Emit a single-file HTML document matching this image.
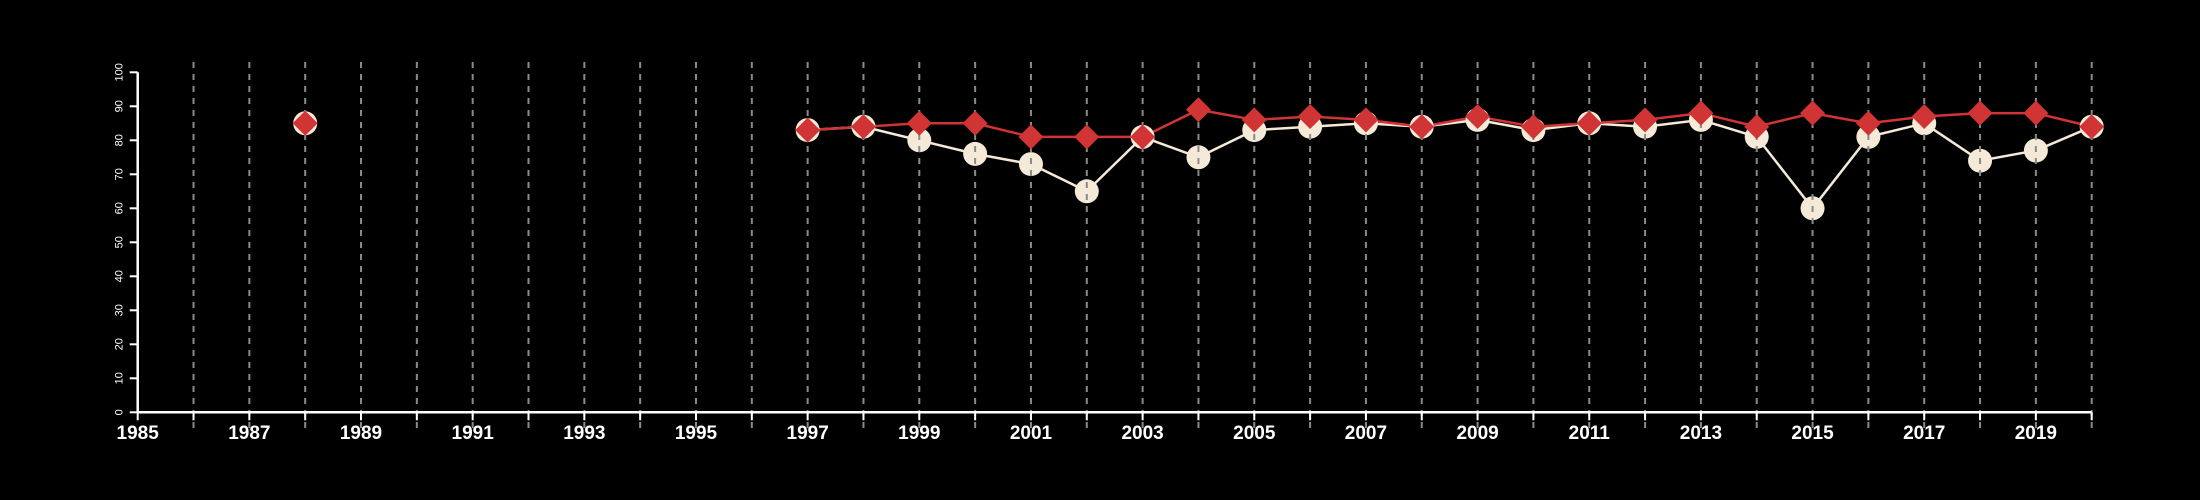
<!DOCTYPE html>
<html><head><meta charset="utf-8"><style>
html,body{margin:0;padding:0;background:#000;}
svg{display:block;}
</style></head><body>
<svg id="chart" width="2200" height="500" xmlns="http://www.w3.org/2000/svg" style="background:#000">
<g id="g-lines"></g>
<g id="g-circles"></g>
<g id="g-grid"></g>
<g id="g-diamonds"></g>
<g id="g-axes"></g>
</svg>
<script>
const years = [1988,1997,1998,1999,2000,2001,2002,2003,2004,2005,2006,2007,2008,2009,2010,2011,2012,2013,2014,2015,2016,2017,2018,2019,2020];
const seriesWhite = [85,83,84,80,76,73,65,81,75,83,84,85,84,86,83,85,84,86,81,60,81,85,74,77,84];
const seriesRed = [85,83,84,85,85,81,81,81,89,86,87,86,84,87,84,85,86,88,84,88,85,87,88,88,84];
const yTicks = [0,10,20,30,40,50,60,70,80,90,100];
const xTickLabels = [1985,1987,1989,1991,1993,1995,1997,1999,2001,2003,2005,2007,2009,2011,2013,2015,2017,2019];
const xMin=1985,xMax=2020,yMin=0,yMax=100;
const X0=137.7,X1=2091.7,Y0=412.3,Y1=72.3;
const NS='http://www.w3.org/2000/svg';
function sx(v){return X0+(v-xMin)/(xMax-xMin)*(X1-X0);}
function sy(v){return Y0-(v-yMin)/(yMax-yMin)*(Y0-Y1);}
function mk(tag,attrs,parent){const e=document.createElementNS(NS,tag);for(const k in attrs)e.setAttribute(k,attrs[k]);parent.appendChild(e);return e;}
const gL=document.getElementById('g-lines'),gC=document.getElementById('g-circles'),gG=document.getElementById('g-grid'),gD=document.getElementById('g-diamonds'),gA=document.getElementById('g-axes');
// grid
for(let y=xMin+1;y<=xMax;y++){
  const l=mk('line',{x1:sx(y),x2:sx(y),y1:62,y2:428,stroke:'#8a8a8a','stroke-width':2,'stroke-dasharray':'6,6'},gG);
  
  
}
// lines (only connect consecutive years)
function drawLine(vals,color,name){
  let d='';
  for(let i=0;i<years.length;i++){
    const cont=i>0&&years[i]-years[i-1]===1;
    d+=(cont?'L':'M')+sx(years[i])+','+sy(vals[i]);
  }
  const p=mk('path',{d:d,fill:'none',stroke:color,'stroke-width':2.5},gL);
  
  
}
drawLine(seriesWhite,'#f5ead8','white-series-line');
drawLine(seriesRed,'#d03434','red-series-line');
for(let i=0;i<years.length;i++){
  const c=mk('circle',{cx:sx(years[i]),cy:sy(seriesWhite[i]),r:12,fill:'#f5ead8'},gC);
  
  
  const x=sx(years[i]),y=sy(seriesRed[i]),r=12.5;
  const dm=mk('polygon',{points:`${x},${y-r} ${x+r},${y} ${x},${y+r} ${x-r},${y}`,fill:'#d03434'},gD);
  
  
}
// axes
const ya=mk('line',{x1:X0,x2:X0,y1:Y1,y2:Y0,stroke:'#fff','stroke-width':2.5},gA);


for(const t of yTicks){
  const tk=mk('line',{x1:X0-8,x2:X0,y1:sy(t),y2:sy(t),stroke:'#fff','stroke-width':2},gA);
  
  
  const tx=mk('text',{x:0,y:0,transform:`translate(${X0-15},${sy(t)}) rotate(-90)`,'text-anchor':'middle',fill:'#fff','font-family':'Liberation Sans, sans-serif','font-size':11},gA);
  tx.textContent=t;
  
  
}
const xa=mk('line',{x1:X0,x2:X1,y1:Y0,y2:Y0,stroke:'#fff','stroke-width':2.5},gA);


for(let y=xMin;y<=xMax;y++){
  const tk=mk('line',{x1:sx(y),x2:sx(y),y1:Y0,y2:Y0+8,stroke:'#fff','stroke-width':2},gA);
  
  
}
for(const t of xTickLabels){
  const tx=mk('text',{x:sx(t),y:439,'text-anchor':'middle',fill:'#fff','font-family':'Liberation Sans, sans-serif','font-size':19,'font-weight':'bold'},gA);
  tx.textContent=t;
  
  
}
</script>
</body></html>
